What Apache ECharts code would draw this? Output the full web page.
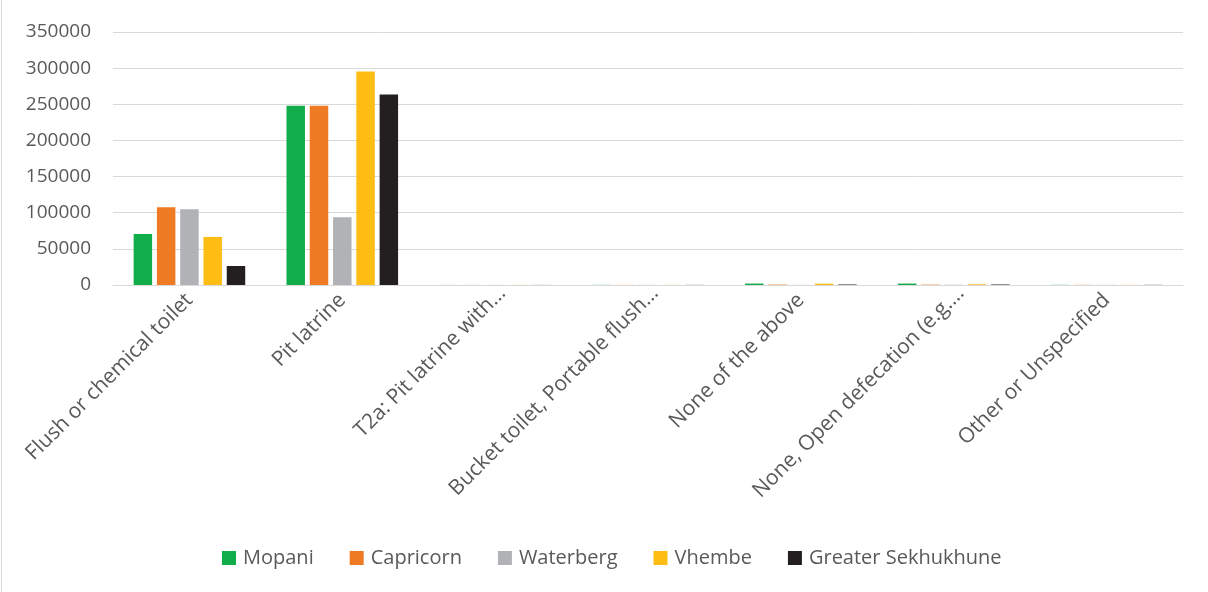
<!DOCTYPE html>
<html>
<head>
<meta charset="utf-8">
<style>
  html, body { margin: 0; padding: 0; background: #ffffff; }
  #chart { width: 1208px; height: 592px; }
</style>
<script src="https://cdn.jsdelivr.net/npm/echarts@6/dist/echarts.min.js"></script>
</head>
<body>
<div id="chart"></div>
<script>
// Toilet facility types by district (households)
const categories = [
  'Flush or chemical toilet',
  'Pit latrine',
  'T2a: Pit latrine with…',
  'Bucket toilet, Portable flush…',
  'None of the above',
  'None, Open defecation (e.g.…',
  'Other or Unspecified'
];
const seriesNames = ['Mopani', 'Capricorn', 'Waterberg', 'Vhembe', 'Greater Sekhukhune'];
const mopani     = [70700, 248000, 100, 150, 2000, 2000, 200];
const capricorn  = [107700, 248000, 100, 150, 600, 500, 200];
const waterberg  = [104900, 93800, 100, 150, 200, 300, 200];
const vhembe     = [66500, 295300, 100, 150, 1800, 1000, 200];
const sekhukhune = [26300, 263400, 100, 150, 700, 700, 200];
const yTicks = [0, 50000, 100000, 150000, 200000, 250000, 300000, 350000];

const colors = ['#12ad4b', '#ee7a24', '#b1b2b5', '#fdbd13', '#231f20'];
const values = [mopani, capricorn, waterberg, vhembe, sekhukhune];
const font = '"Open Sans", "Noto Sans", sans-serif';

// truncated names sit a little to the right of their tick
const categoryItems = categories.map(name => name.endsWith('…')
  ? { value: name, textStyle: { padding: [20, -10, 0, 0] } }
  : name);

const chart = echarts.init(document.getElementById('chart'));
chart.setOption({
  animation: false,
  color: colors,
  graphic: [{
    type: 'line',
    shape: { x1: 1.5, y1: 0, x2: 1.5, y2: 592 },
    style: { stroke: '#d9d9d9', lineWidth: 1 }
  }],
  grid: { left: 113, right: 25, top: 32, bottom: 307, containLabel: false },
  legend: {
    data: seriesNames,
    top: 543,
    left: 217,
    itemWidth: 14,
    itemHeight: 14,
    itemGap: 36,
    icon: 'rect',
    textStyle: { color: '#595959', fontSize: 20, fontFamily: font, padding: [0, 0, 0, 2] }
  },
  xAxis: {
    type: 'category',
    data: categoryItems,
    axisLine: { lineStyle: { color: '#d9d9d9', width: 1 } },
    axisTick: { show: false },
    axisLabel: {
      rotate: 45,
      interval: 0,
      margin: 12,
      color: '#595959',
      fontSize: 21,
      fontFamily: font
    }
  },
  yAxis: {
    type: 'value',
    min: yTicks[0],
    max: yTicks[yTicks.length - 1],
    interval: 50000,
    axisLine: { show: false },
    axisTick: { show: false },
    splitLine: { lineStyle: { color: '#d9d9d9', width: 1 } },
    axisLabel: {
      margin: 22,
      color: '#595959',
      fontSize: 19,
      fontFamily: font,
      formatter: v => String(v)
    }
  },
  series: seriesNames.map((name, i) => ({
    name: name,
    type: 'bar',
    data: values[i],
    barGap: '26%',
    barCategoryGap: '27%',
    itemStyle: { color: colors[i] }
  }))
});
</script>
</body>
</html>
